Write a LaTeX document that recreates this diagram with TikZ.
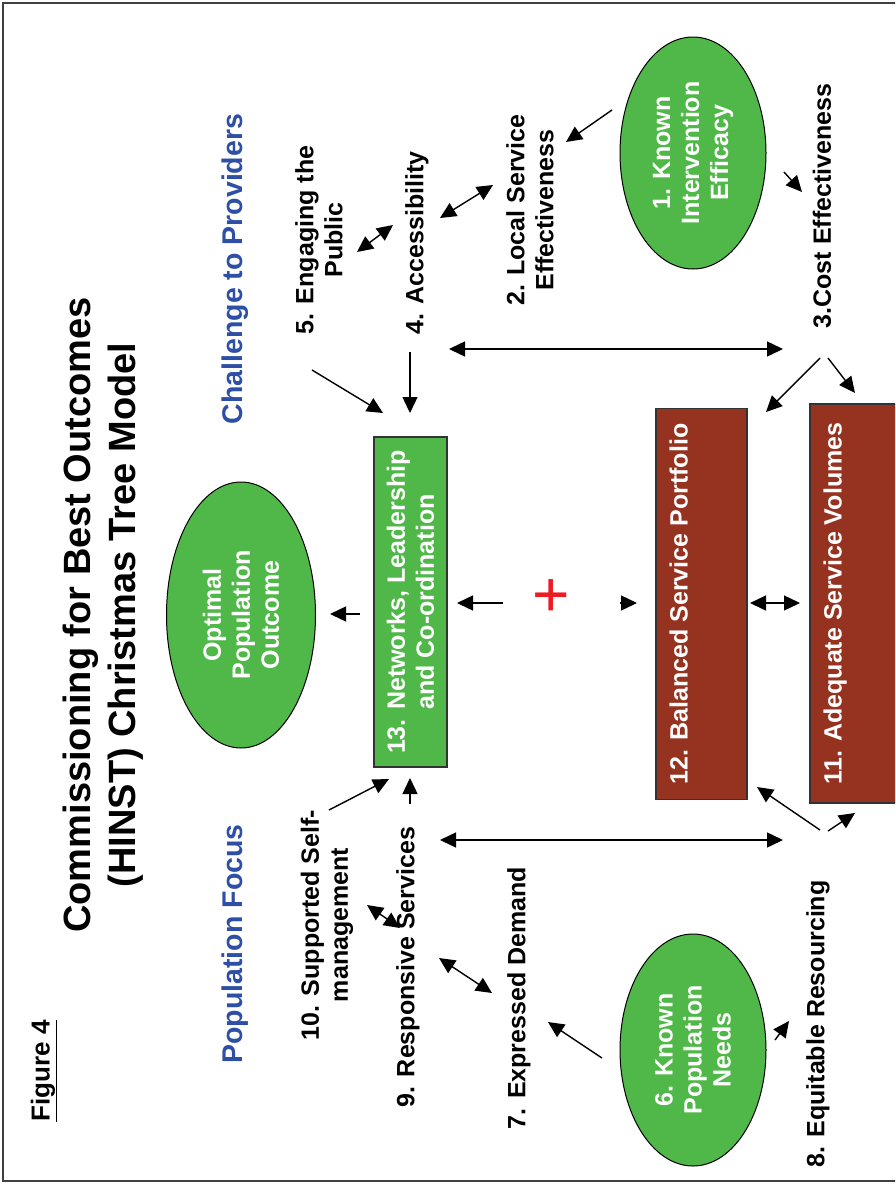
\documentclass[tikz,border=0pt]{standalone}
\usepackage{fontspec}
\setmainfont{Liberation Sans}
\usepackage{xcolor}
\usetikzlibrary{positioning, arrows.meta, shapes.geometric}
\definecolor{cgreen}{HTML}{50B848}
\definecolor{cbrown}{HTML}{963220}
\definecolor{cblue}{HTML}{2D4FA5}
\definecolor{cred}{HTML}{ED1C24}

\begin{document}
\begin{tikzpicture}[
	x=1pt, y=-1pt,
	% Estilo para los textos negros
	labeltext/.style={
		rotate=90,
		align=center,
		inner sep=0pt,
		font=\fontsize{25}{29}\selectfont\bfseries
	},
	% Estilo para los textos azules
	bluetext/.style={
		rotate=90,
		inner sep=0pt,
		text=cblue,
		font=\fontsize{28.5}{34}\selectfont\bfseries
	},
	% Estilo para las elipses verdes
	greenoval/.style={
		ellipse,
		rotate=90,
		draw=black,
		line width=1pt,
		fill=cgreen,
		text=white,
		align=center,
		inner sep=0pt,
		font=\fontsize{25}{29}\selectfont\bfseries
	},
	% Estilo para las cajas
	greenbox/.style={
		rectangle,
		rotate=90,
		draw=black!80,
		line width=1.2pt,
		fill=cgreen,
		text=white,
		align=center,
		font=\fontsize{25}{29}\selectfont\bfseries
	},
	brownbox/.style={
		rectangle,
		rotate=90,
		draw=black!80,
		line width=1.2pt,
		fill=cbrown,
		text=white,
		text height=18pt,
		text depth=46pt,
		font=\fontsize{25}{29}\selectfont\bfseries
	},
	% Estilo para las flechas
	onearrow/.style={
		-{Triangle[length=16pt,width=15pt]},
		line width=1.4pt
	},
	twoarrow/.style={
		{Triangle[length=16pt,width=15pt]}-{Triangle[length=16pt,width=15pt]},
		line width=1.4pt
	}
	]
	
	\clip (0,0) rectangle (895,1184);
	% --- Marco ---
	\draw[black!75, line width=2pt] (3,3) rectangle (905,1181);
	
	% --- Titulos ---
	\node[rotate=90, inner sep=0pt, font=\fontsize{26}{30}\selectfont\bfseries] (fig) at (44,1071) {\underline{Figure 4}};
	\node[rotate=90, align=center, inner sep=0pt, font=\fontsize{38}{45}\selectfont\bfseries] (title) at (103,615)
	{Commissioning for Best Outcomes\\(HINST) Christmas Tree Model};
	\node[bluetext] (chal) at (235,269) {Challenge to Providers};
	\node[bluetext] (popf) at (235,944) {Population Focus};
	
	% --- Elipses ---
	\node[greenoval, minimum width=232pt, minimum height=146pt] (ke) at (693,153) {1. Known\\Intervention\\Efficacy};
	\node[greenoval, minimum width=232pt, minimum height=146pt] (kpn) at (693,1050) {6. Known\\Population\\Needs};
	\node[greenoval, minimum width=266pt, minimum height=149pt] (opt) at (241,615) {Optimal\\Population\\Outcome};
	
	% --- Cajas ---
	\node[greenbox, minimum width=330pt, minimum height=73pt] (net) at (410.5,602) {13. Networks, Leadership\\and Co-ordination};
	\node[brownbox, minimum width=391pt, minimum height=91pt] (bsp) at (701.5,604) {12. Balanced Service Portfolio};
	\node[brownbox, minimum width=399pt, minimum height=91pt] (asv) at (855.5,603.5) {11. Adequate Service Volumes};
	\node[text=cred, inner sep=0pt, font=\fontsize{64}{64}\selectfont] (plus) at (551,598) {+};
	
	% --- Etiquetas ---
	\node[labeltext] (lse) at (530,210) {2. Local Service\\Effectiveness};
	\node[labeltext] (ce) at (822,206) {3.Cost Effectiveness};
	\node[labeltext] (acc) at (417,243) {4. Accessibility};
	\node[labeltext] (eng) at (319,240) {5. Engaging the\\Public};
	\node[labeltext] (ed) at (519,998) {7. Expressed Demand};
	\node[labeltext] (er) at (818,1024) {8. Equitable Resourcing};
	\node[labeltext] (rs) at (408,967) {9. Responsive Services};
	\node[labeltext] (ssm) at (327,925) {10. Supported Self-\\management};
	
	% --- Puntos de las flechas ---
	\coordinate (ke-a) at (612,110);  \coordinate (lse-a) at (566,142);
	\coordinate (ke-b) at (784,172);  \coordinate (ce-a) at (802,192);
	\coordinate (eng-a) at (357,252); \coordinate (acc-a) at (393,225);
	\coordinate (acc-b) at (440,218); \coordinate (lse-b) at (493,185);
	\coordinate (acc-c) at (449,349); \coordinate (ce-b) at (783,349);
	\coordinate (eng-b) at (312,370); \coordinate (net-a) at (383,413);
	\coordinate (acc-d) at (410,352); \coordinate (net-b) at (410,413);
	\coordinate (ce-c) at (820,358);  \coordinate (bsp-a) at (766,412);
	\coordinate (ce-d) at (828,358);  \coordinate (asv-a) at (855,393);
	\coordinate (net-c) at (360,614); \coordinate (opt-a) at (330,614);
	\coordinate (plus-a) at (503,603); \coordinate (net-d) at (457,603);
	\coordinate (plus-b) at (620,603); \coordinate (bsp-b) at (637,603);
	\coordinate (bsp-c) at (750,603); \coordinate (asv-b) at (800,603);
	\coordinate (ssm-a) at (329,810); \coordinate (net-e) at (389,779);
	\coordinate (rs-a) at (410,804);  \coordinate (net-f) at (410,778);
	\coordinate (rs-b) at (440,840);  \coordinate (er-a) at (783,840);
	\coordinate (er-b) at (820,830);  \coordinate (bsp-d) at (757,787);
	\coordinate (er-c) at (828,831);  \coordinate (asv-c) at (855,813);
	\coordinate (ssm-b) at (367,905); \coordinate (rs-c) at (400,928);
	\coordinate (rs-d) at (439,958);  \coordinate (ed-a) at (492,993);
	\coordinate (kpn-a) at (602,1058); \coordinate (ed-b) at (548,1022);
	\coordinate (kpn-b) at (775,1040); \coordinate (er-d) at (789,1021);
	
	% --- Flechas ---
	\draw[onearrow] (ke-a) -- (lse-a);
	\draw[onearrow] (ke-b) -- (ce-a);
	\draw[twoarrow] (eng-a) -- (acc-a);
	\draw[twoarrow] (acc-b) -- (lse-b);
	\draw[twoarrow] (acc-c) -- (ce-b);
	\draw[onearrow] (eng-b) -- (net-a);
	\draw[onearrow] (acc-d) -- (net-b);
	\draw[onearrow] (ce-c) -- (bsp-a);
	\draw[onearrow] (ce-d) -- (asv-a);
	\draw[onearrow] (net-c) -- (opt-a);
	\draw[onearrow] (plus-a) -- (net-d);
	\draw[onearrow] (plus-b) -- (bsp-b);
	\draw[twoarrow] (bsp-c) -- (asv-b);
	\draw[onearrow] (ssm-a) -- (net-e);
	\draw[onearrow] (rs-a) -- (net-f);
	\draw[twoarrow] (rs-b) -- (er-a);
	\draw[onearrow] (er-b) -- (bsp-d);
	\draw[onearrow] (er-c) -- (asv-c);
	\draw[twoarrow] (ssm-b) -- (rs-c);
	\draw[twoarrow] (rs-d) -- (ed-a);
	\draw[onearrow] (kpn-a) -- (ed-b);
	\draw[onearrow] (kpn-b) -- (er-d);
	
\end{tikzpicture}
\end{document}
